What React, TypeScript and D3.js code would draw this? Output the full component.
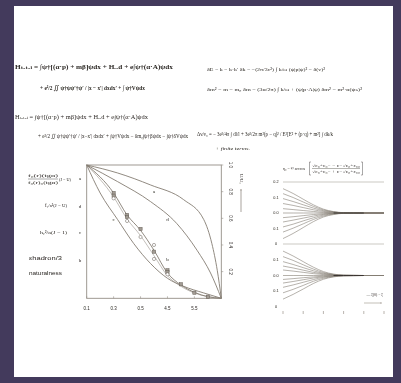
import * as d3 from "d3"

// ---- left chart: U/U0 curves, x along 0..1 ----
const curveA = [[0, 1], [0.23, 0.94], [0.475, 0.85], [0.72, 0.74], [0.87, 0.59], [0.93, 0.41], [0.97, 0.21], [1, 0]]
const curveD = [[0, 1], [0.23, 0.875], [0.475, 0.725], [0.67, 0.56], [0.82, 0.36], [0.92, 0.19], [1, 0]]
const curveC = [[0, 1], [0.2, 0.79], [0.3, 0.625], [0.4, 0.51], [0.5, 0.36], [0.6, 0.19], [0.7, 0.1], [0.8, 0.045], [0.9, 0.012], [1, 0]]
const curveC2 = [[0, 1], [0.2, 0.76], [0.3, 0.595], [0.4, 0.47], [0.5, 0.32], [0.6, 0.17], [0.7, 0.09], [0.8, 0.04], [1, 0]]
const curveB = [[0, 1], [0.1, 0.79], [0.23, 0.59], [0.35, 0.41], [0.475, 0.26], [0.6, 0.15], [0.72, 0.09], [0.87, 0.04], [1, 0]]

const squarePts = [[0.2, 0.79], [0.2, 0.77], [0.3, 0.625], [0.3, 0.61], [0.4, 0.52], [0.5, 0.35], [0.6, 0.21], [0.6, 0.195], [0.7, 0.105], [0.8, 0.042], [0.9, 0.012]]
const circlePts = [[0.2, 0.75], [0.3, 0.58], [0.4, 0.46], [0.5, 0.4], [0.5, 0.295], [0.6, 0.18]]

const curveLetters = [["a", 0.5, 0.8], ["d", 0.6, 0.59], ["c", 0.2, 0.59], ["b", 0.6, 0.29]]
const xTickVals = [0, 0.2, 0.4, 0.6, 0.8]
const xTickLabels = ["0.1", "0.3", "0.5", "4.5", "5.5"]
const yTickVals = [1, 0.8, 0.6, 0.4, 0.2]
const yTickLabels = ["1.0", "0.8", "0.6", "0.4", "0.2"]

// ---- right chart: relaxation of η toward its limit ----
const rX = [0, 0.5, 1, 1.5, 2, 2.5, 3, 4, 5]
const upperLines = [
  [0.157, 0.126, 0.089, 0.053, 0.025, 0.009, 0.002, 0, 0],
  [0.125, 0.1, 0.071, 0.043, 0.02, 0.008, 0.002, 0, 0],
  [0.093, 0.074, 0.053, 0.032, 0.015, 0.006, 0.001, 0, 0],
  [0.061, 0.049, 0.035, 0.021, 0.01, 0.004, 0.001, 0, 0],
  [0.028, 0.022, 0.016, 0.01, 0.004, 0.002, 0, 0, 0],
  [0, 0, 0, 0, 0, 0, 0, 0, 0],
  [-0.03, -0.024, -0.017, -0.01, -0.005, -0.002, 0, 0, 0],
  [-0.058, -0.046, -0.033, -0.02, -0.009, -0.003, -0.001, 0, 0],
  [-0.09, -0.072, -0.051, -0.031, -0.014, -0.005, -0.001, 0, 0],
  [-0.123, -0.098, -0.07, -0.042, -0.02, -0.007, -0.002, 0, 0],
  [-0.165, -0.132, -0.094, -0.056, -0.026, -0.01, -0.002, 0, 0],
]
const lowerLines = [
  [0.155, 0.124, 0.088, 0.053, 0.025, 0.009, 0.002, 0, 0],
  [0.12, 0.096, 0.068, 0.041, 0.019, 0.007, 0.002, 0, 0],
  [0.088, 0.07, 0.05, 0.03, 0.014, 0.005, 0.001, 0, 0],
  [0.06, 0.048, 0.034, 0.02, 0.01, 0.004, 0.001, 0, 0],
  [0.035, 0.028, 0.02, 0.012, 0.006, 0.002, 0, 0, 0],
  [0, 0, 0, 0, 0, 0, 0, 0, 0],
  [-0.025, -0.02, -0.014, -0.009, -0.004, -0.002, 0, 0, 0],
  [-0.048, -0.038, -0.027, -0.016, -0.008, -0.003, -0.001, 0, 0],
  [-0.075, -0.06, -0.043, -0.026, -0.012, -0.005, -0.001, 0, 0],
  [-0.11, -0.088, -0.063, -0.037, -0.018, -0.007, -0.002, 0, 0],
  [-0.15, -0.12, -0.086, -0.051, -0.024, -0.009, -0.002, 0, 0],
]
const rXTicks = [0, 1, 2, 3, 4, 5]
const upperTicks = [0.2, 0.1, 0, -0.1, -0.2]
const upperTickLabels = ["0.2", "0.1", "0.0", "0.1", "0"]
const lowerTicks = [0.1, 0, -0.1, -0.2]
const lowerTickLabels = ["0.1", "0.0", "0.1", "0"]

const INK = "#2a2622"
const LINE = "#857d73"
const SERIF = "'Liberation Serif', 'DejaVu Serif', serif"
const SANS = "'Liberation Sans', Arial, sans-serif"

function Eq({ x, y, size, text, width, italic = false, bold = false }) {
  return (
    <text
      x={x}
      y={y}
      fontSize={size}
      fontFamily={SERIF}
      fontStyle={italic ? "italic" : "normal"}
      fontWeight={bold ? 700 : 400}
      fill={INK}
      textLength={width}
      lengthAdjust="spacingAndGlyphs"
    >
      {text}
    </text>
  )
}

export default function App() {
  const xL = d3.scaleLinear().domain([0, 1]).range([86.7, 221.3])
  const yL = d3.scaleLinear().domain([0, 1]).range([298.3, 165])
  const lineL = d3.line().x((d) => xL(d[0])).y((d) => yL(d[1])).curve(d3.curveMonotoneX)

  const xR = d3.scaleLinear().domain([0, 5]).range([283, 384])
  const yU = d3.scaleLinear().domain([-0.2, 0.2]).range([244, 182])
  const yLo = d3.scaleLinear().domain([-0.2, 0.2]).range([307, 244])
  const lineU = d3.line().x((d, i) => xR(rX[i])).y((d) => yU(d)).curve(d3.curveMonotoneX)
  const lineLo = d3.line().x((d, i) => xR(rX[i])).y((d) => yLo(d)).curve(d3.curveMonotoneX)

  return (
    <div style={{ position: "fixed", left: 0, top: 0 }}>
      <svg width={401} height={383} style={{ display: "block" }}>
        <defs>
          <filter id="soft" x="-5%" y="-5%" width="110%" height="110%">
            <feGaussianBlur stdDeviation="0.3" />
          </filter>
          <marker id="arr" viewBox="0 0 6 6" refX="3" refY="3" markerWidth="4" markerHeight="4" orient="auto">
            <path d="M0,0 L6,3 L0,6" fill="none" stroke={LINE} strokeWidth="1" />
          </marker>
        </defs>
        <rect width={401} height={383} fill="#433a5c" />
        <rect x={14} y={6} width={379} height={371} fill="#ffffff" />

        <g filter="url(#soft)">
          {/* equations */}
          <Eq x={15} y={69} size={6.5} width={158} bold text="Hₜₒₜₐₗ = ∫ψ†[(α·p) + mβ]ψdx + Hᵣₐd + e∫ψ†(α·A)ψdx" />
          <Eq x={40} y={90} size={6.5} width={105} bold text="+ e²/2 ∬ ψ†ψψ′†ψ′ / |x − x′| dxdx′ + ∫ ψ†Vψdx" />
          <Eq x={207} y={71} size={5} width={118} text="δE = k − k·k′   δk = −(2π/3c²) ∫ k/ω   (ψ|p|ψ)² − δ(v)²" />
          <Eq x={207} y={91} size={5} width={155} text="δm² = m − m₀   δm = (3α/2π) ∫ k/ω  + (ψ|p·A|ψ)   δm² = m²·α(ψₙ)²" />
          <Eq x={15} y={119} size={5.5} width={133} text="Hₜₒₜₐₗ = ∫ψ†[(α·p) + mβ]ψdx + Hᵣₐd + e∫ψ†(α·A)ψdx" />
          <Eq x={38} y={138} size={5.5} width={150} text="+ e²/2 ∬ ψ†ψψ′†ψ′ / |x−x′| dxdx′ + ∫ψ†Vψdx − δm₀∫ψ†βψdx − ∫ψ†δVψdx" />
          <Eq x={197} y={136} size={5.5} width={136} text="Δν/ν₀ = − 3e²/4π ∫ dl/l  +  3e²/2π  m²(p − q)² / E²[E² + (p·q) + m²]  ∫ dk/k" />
          <Eq x={215} y={150} size={4.5} width={35} italic text="+ finite terms." />

          {/* left legend */}
          <Eq x={28} y={177} size={4.5} width={30} text="f₀(r)(tgα)" />
          <line x1={28} x2={58} y1={179} y2={179} stroke={INK} strokeWidth={0.4} />
          <Eq x={28} y={184} size={4.5} width={30} text="f₀(r)₀(tgα)" />
          <Eq x={59} y={181} size={4.5} width={12} text="(J = U)" />
          <Eq x={45} y={207} size={4.5} width={22} text="Ĩ₁/a²(J = U)" />
          <Eq x={40} y={234} size={4.5} width={27} text="hᵧ²/a(J = 1)" />
          <text x={29} y={260} fontSize={4.5} fontFamily={SANS} fill={INK} textLength={33} lengthAdjust="spacingAndGlyphs">εhadron/3</text>
          <text x={29} y={275} fontSize={4.5} fontFamily={SANS} fill={INK} textLength={33} lengthAdjust="spacingAndGlyphs">naturalness</text>
          {["a", "d", "c", "b"].map((l, i) => (
            <text key={l} x={80} y={[180, 208, 234, 262][i]} fontSize={5} fontFamily={SERIF} fill={INK} textAnchor="middle">{l}</text>
          ))}

          {/* left chart frame */}
          <rect x={xL(0)} y={yL(1)} width={xL(1) - xL(0)} height={yL(0) - yL(1)} fill="none" stroke="#948e86" strokeWidth={0.9} />
          {xTickVals.map((v, i) => (
            <g key={i}>
              <line x1={xL(v)} x2={xL(v)} y1={yL(0)} y2={yL(0) - 2} stroke="#948e86" strokeWidth={0.6} />
              <text x={xL(v)} y={310} fontSize={4.5} fontFamily={SANS} fill={INK} textAnchor="middle">{xTickLabels[i]}</text>
            </g>
          ))}
          {yTickVals.map((v, i) => (
            <g key={i}>
              <line x1={xL(1)} x2={xL(1) + 2} y1={yL(v)} y2={yL(v)} stroke="#948e86" strokeWidth={0.6} />
              <text x={230} y={yL(v)} fontSize={4.5} fontFamily={SANS} fill={INK} textAnchor="middle" dominantBaseline="middle" transform={`rotate(90 230 ${yL(v)})`}>{yTickLabels[i]}</text>
            </g>
          ))}
          <text x={241} y={179} fontSize={5} fontFamily={SERIF} fill={INK} textAnchor="middle" dominantBaseline="middle" transform="rotate(90 241 179)">U/U₀</text>
          <line x1={241} x2={241} y1={212} y2={190} stroke={LINE} strokeWidth={0.7} markerEnd="url(#arr)" />

          {[curveA, curveD, curveC, curveC2, curveB].map((c, i) => (
            <path key={i} d={lineL(c)} fill="none" stroke={LINE} strokeWidth={i === 3 ? 0.5 : 0.9} />
          ))}
          {squarePts.map((p, i) => (
            <rect key={i} x={xL(p[0]) - 1.6} y={yL(p[1]) - 1.6} width={3.2} height={3.2} fill="#a29c94" stroke="#625b53" strokeWidth={0.5} />
          ))}
          {circlePts.map((p, i) => (
            <circle key={i} cx={xL(p[0])} cy={yL(p[1])} r={1.6} fill="#fff" stroke="#625b53" strokeWidth={0.5} />
          ))}
          {curveLetters.map(([l, x, y]) => (
            <text key={l} x={xL(x)} y={yL(y)} fontSize={5} fontFamily={SERIF} fill={INK} textAnchor="middle" dominantBaseline="middle">{l}</text>
          ))}

          {/* right chart title */}
          <Eq x={283} y={170} size={4.5} width={22} text="η₀ = ½ arccos" />
          <path d="M311,162 L309.5,162 L309.5,175 L311,175 M361,162 L362.5,162 L362.5,175 L361,175" fill="none" stroke={INK} strokeWidth={0.4} />
          <Eq x={312} y={166.5} size={3.6} width={48} text="√ε₀⁺ε₀⁻ − ε⁻√ε₀⁺ε₀₀" />
          <line x1={312} x2={360} y1={168.5} y2={168.5} stroke={INK} strokeWidth={0.35} />
          <Eq x={312} y={173} size={3.6} width={48} text="√ε₀⁺ε₀⁻ + ε⁻√ε₀⁺ε₀₀" />

          {/* right chart frame */}
          <line x1={xR(0)} x2={xR(5)} y1={yU(0.2)} y2={yU(0.2)} stroke="#aaa49c" strokeWidth={0.6} />
          <line x1={xR(0)} x2={xR(5)} y1={yU(-0.2)} y2={yU(-0.2)} stroke="#aaa49c" strokeWidth={0.6} />
          {upperTicks.map((v, i) => (
            <text key={"u" + i} x={276} y={yU(v)} fontSize={3.8} fontFamily={SANS} fill={INK} textAnchor="middle" dominantBaseline="middle">{upperTickLabels[i]}</text>
          ))}
          {lowerTicks.map((v, i) => (
            <text key={"l" + i} x={276} y={yLo(v)} fontSize={3.8} fontFamily={SANS} fill={INK} textAnchor="middle" dominantBaseline="middle">{lowerTickLabels[i]}</text>
          ))}
          {rXTicks.map((v) => (
            <line key={v} x1={xR(v)} x2={xR(v)} y1={311} y2={314} stroke="#8a8278" strokeWidth={0.6} />
          ))}
          {upperLines.map((l, i) => (
            <path key={"ul" + i} d={lineU(l)} fill="none" stroke={LINE} strokeWidth={0.6} />
          ))}
          {lowerLines.map((l, i) => (
            <path key={"ll" + i} d={lineLo(l)} fill="none" stroke={LINE} strokeWidth={0.6} />
          ))}
          <path d={lineU(upperLines[5].slice(5))} fill="none" stroke="#3a3530" strokeWidth={1} transform={`translate(${xR(rX[5]) - xR(0)},0)`} />
          <path d={lineLo(lowerLines[5].slice(5))} fill="none" stroke="#3a3530" strokeWidth={1} transform={`translate(${xR(rX[5]) - xR(0)},0)`} />

          {/* right legend */}
          <text x={383} y={296} fontSize={3.8} fontFamily={SERIF} fill={INK} textAnchor="end">— ξ(0) − ξ</text>
          <line x1={364} x2={381} y1={303} y2={303} stroke={LINE} strokeWidth={0.5} markerEnd="url(#arr)" />
        </g>
      </svg>
    </div>
  )
}
